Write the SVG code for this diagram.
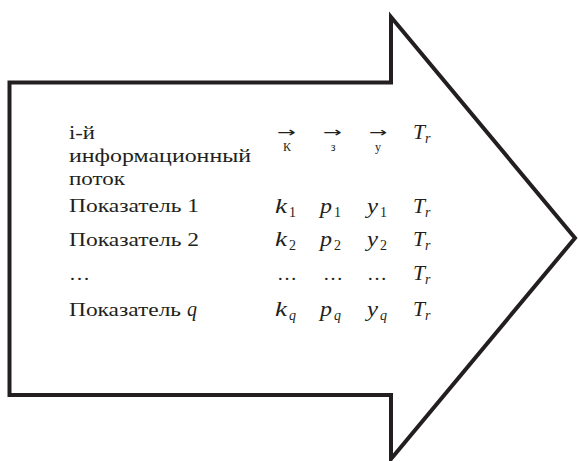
<svg xmlns="http://www.w3.org/2000/svg" width="578" height="461" viewBox="0 0 578 461">
<style>
.t{font-family:"Liberation Serif","Times New Roman",serif;font-size:19px;fill:#231f20}
.m{font-family:"Liberation Serif","Times New Roman",serif;font-style:italic;font-size:20px;fill:#231f20}
.s{font-family:"Liberation Serif","Times New Roman",serif;font-size:14px;fill:#231f20}
.si{font-family:"Liberation Serif","Times New Roman",serif;font-style:italic;font-size:14px;fill:#231f20}
.ar{font-family:"DejaVu Sans","Liberation Sans",sans-serif;font-size:14px;fill:#231f20}
.sl{font-family:"Liberation Serif","Times New Roman",serif;font-size:12px;fill:#231f20;text-anchor:middle}
</style>
<g id="arrow">
<polygon points="9.5,82.5 391,82.5 391,17 575,238 391,459 391,395 9.5,395" fill="#ffffff" stroke="#231f20" stroke-width="4" stroke-linejoin="miter" stroke-miterlimit="10"/>
</g>
<g id="labels">
<text class="t" x="69" y="139" textLength="26" lengthAdjust="spacingAndGlyphs">і-й</text>
<text class="t" x="69" y="162" textLength="182" lengthAdjust="spacingAndGlyphs">информационный</text>
<text class="t" x="69" y="185" textLength="56" lengthAdjust="spacingAndGlyphs">поток</text>
<text class="t" x="69" y="212" textLength="130" lengthAdjust="spacingAndGlyphs">Показатель 1</text>
<text class="t" x="69" y="246" textLength="130" lengthAdjust="spacingAndGlyphs">Показатель 2</text>
<text class="t" x="69" y="280" textLength="21" lengthAdjust="spacingAndGlyphs">…</text>
<text class="t" x="69" y="316"><tspan textLength="112" lengthAdjust="spacingAndGlyphs">Показатель</tspan> <tspan class="m" x="187">q</tspan></text>
</g>
<g id="header">
<text class="ar" transform="translate(277,137) scale(1.6,1)">→</text>
<text class="ar" transform="translate(323,137) scale(1.6,1)">→</text>
<text class="ar" transform="translate(369,137) scale(1.55,1)">→</text>
<text class="sl" x="287" y="151">К</text>
<text class="sl" x="333" y="151">з</text>
<text class="sl" x="378" y="151">у</text>
<text class="m" x="413" y="139" textLength="12" lengthAdjust="spacingAndGlyphs">T</text><text class="si" x="425" y="143">r</text>
</g>
<g id="row1">
<text class="m" x="275" y="213" textLength="12" lengthAdjust="spacingAndGlyphs">k</text><text class="s" x="289" y="217">1</text>
<text class="m" x="320" y="213" textLength="12" lengthAdjust="spacingAndGlyphs">p</text><text class="s" x="334" y="217">1</text>
<text class="m" x="367" y="213" textLength="11" lengthAdjust="spacingAndGlyphs">y</text><text class="s" x="380" y="217">1</text>
<text class="m" x="413" y="213" textLength="12" lengthAdjust="spacingAndGlyphs">T</text><text class="si" x="425" y="217">r</text>
</g>
<g id="row2">
<text class="m" x="275" y="246" textLength="12" lengthAdjust="spacingAndGlyphs">k</text><text class="s" x="289" y="250">2</text>
<text class="m" x="320" y="246" textLength="12" lengthAdjust="spacingAndGlyphs">p</text><text class="s" x="334" y="250">2</text>
<text class="m" x="367" y="246" textLength="11" lengthAdjust="spacingAndGlyphs">y</text><text class="s" x="380" y="250">2</text>
<text class="m" x="413" y="246" textLength="12" lengthAdjust="spacingAndGlyphs">T</text><text class="si" x="425" y="250">r</text>
</g>
<g id="row3">
<text class="t" x="277" y="280" textLength="20" lengthAdjust="spacingAndGlyphs">…</text>
<text class="t" x="323" y="280" textLength="20" lengthAdjust="spacingAndGlyphs">…</text>
<text class="t" x="367" y="280" textLength="20" lengthAdjust="spacingAndGlyphs">…</text>
<text class="m" x="413" y="280" textLength="12" lengthAdjust="spacingAndGlyphs">T</text><text class="si" x="425" y="284">r</text>
</g>
<g id="row4">
<text class="m" x="275" y="316" textLength="12" lengthAdjust="spacingAndGlyphs">k</text><text class="si" x="289" y="320">q</text>
<text class="m" x="320" y="316" textLength="12" lengthAdjust="spacingAndGlyphs">p</text><text class="si" x="334" y="320">q</text>
<text class="m" x="367" y="316" textLength="11" lengthAdjust="spacingAndGlyphs">y</text><text class="si" x="380" y="320">q</text>
<text class="m" x="413" y="316" textLength="12" lengthAdjust="spacingAndGlyphs">T</text><text class="si" x="425" y="320">r</text>
</g>
</svg>
